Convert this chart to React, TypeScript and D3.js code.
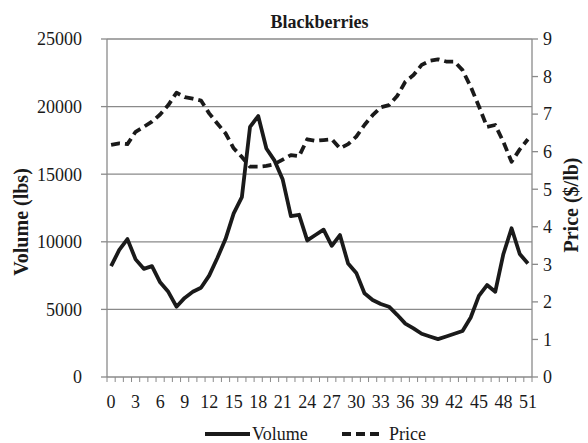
import React from 'react';
import * as d3 from 'd3';

const weeks = [0,1,2,3,4,5,6,7,8,9,10,11,12,13,14,15,16,17,18,19,20,21,22,23,24,25,26,27,28,29,30,31,32,33,34,35,36,37,38,39,40,41,42,43,44,45,46,47,48,49,50,51];
const volume = [8200,9400,10200,8700,8000,8200,7000,6300,5200,5850,6300,6600,7500,8800,10200,12100,13300,18500,19300,16900,16000,14600,11900,12000,10100,10500,10900,9700,10500,8400,7700,6200,5700,5400,5200,4600,3950,3600,3200,3000,2800,3000,3200,3400,4400,6000,6800,6300,9100,11000,9100,8400];
const price = [6.18,6.22,6.2,6.53,6.66,6.8,6.99,7.24,7.57,7.45,7.41,7.36,7.02,6.75,6.49,6.09,5.86,5.6,5.6,5.62,5.67,5.79,5.91,5.88,6.33,6.29,6.31,6.33,6.09,6.2,6.4,6.71,6.97,7.18,7.24,7.48,7.86,8.04,8.31,8.42,8.46,8.4,8.4,8.17,7.73,7.21,6.66,6.71,6.26,5.73,6.06,6.33];
const volumeTicks = [0,5000,10000,15000,20000,25000];
const priceTicks = [0,1,2,3,4,5,6,7,8,9];
const labelWeeks = [0,3,6,9,12,15,18,21,24,27,30,33,36,39,42,45,48,51];

const W = 588, H = 443;
const L = 107, R = 532, T = 39, B = 377;
const FONT = '"Liberation Serif", "Times New Roman", serif';
const INK = '#1a1a1a';
const GRID = '#8a8a8a';

export default function App() {
  const x = d3.scaleBand<number>().domain(weeks).range([L, R]);
  const cx = (w: number) => (x(w) as number) + x.bandwidth() / 2;
  const yL = d3.scaleLinear().domain([0, 25000]).range([B, T]);
  const yR = d3.scaleLinear().domain([0, 9]).range([B, T]);
  const volLine = d3.line<number>().x((_, i) => cx(weeks[i])).y(d => yL(d));
  const priceLine = d3.line<number>().x((_, i) => cx(weeks[i])).y(d => yR(d));
  const boundaries = [...weeks.map(w => x(w) as number), R];

  return (
    <svg width={W} height={H} style={{ position: 'absolute', left: 0, top: 0, background: '#fff' }} fontFamily={FONT}>
      <rect width={W} height={H} fill="#fff" />
      {volumeTicks.map(t => (
        <g key={t}>
          {t > 0 && <line x1={L} x2={R} y1={yL(t)} y2={yL(t)} stroke={GRID} strokeWidth={1.3} />}
          <line x1={L - 6} x2={L} y1={yL(t)} y2={yL(t)} stroke={GRID} strokeWidth={1.3} />
          <text x={82} y={yL(t)} dy="0.35em" textAnchor="end" fontSize={18} fill={INK}>{t}</text>
        </g>
      ))}
      {priceTicks.map(t => (
        <g key={t}>
          <line x1={R} x2={R + 6} y1={yR(t)} y2={yR(t)} stroke={GRID} strokeWidth={1.3} />
          <text x={543} y={yR(t)} dy="0.35em" textAnchor="start" fontSize={18} fill={INK}>{t}</text>
        </g>
      ))}
      <line x1={L} x2={L} y1={T} y2={B} stroke={GRID} strokeWidth={1.3} />
      <line x1={R} x2={R} y1={T} y2={B} stroke={GRID} strokeWidth={1.3} />
      <line x1={L} x2={R} y1={B} y2={B} stroke={GRID} strokeWidth={1.3} />
      {boundaries.map((b, i) => (
        <line key={i} x1={b} x2={b} y1={B} y2={B + 5} stroke={GRID} strokeWidth={1} />
      ))}
      {labelWeeks.map(w => (
        <text key={w} x={cx(w)} y={408} textAnchor="middle" fontSize={18} fill={INK}>{w}</text>
      ))}
      <path d={volLine(volume) || ''} fill="none" stroke={INK} strokeWidth={3.8} strokeLinejoin="round" />
      <path d={priceLine(price) || ''} fill="none" stroke={INK} strokeWidth={3.8} strokeDasharray="9,5" strokeLinejoin="round" />
      <text x={(L + R) / 2} y={28} textAnchor="middle" fontSize={18} fontWeight="bold" fill={INK}>Blackberries</text>
      <text transform={`translate(28,222) rotate(-90)`} textAnchor="middle" fontSize={20} fontWeight="bold" fill={INK}>Volume (lbs)</text>
      <text transform={`translate(578,205) rotate(-90)`} textAnchor="middle" fontSize={20} fontWeight="bold" fill={INK}>Price ($/lb)</text>
      <line x1={205} x2={250} y1={434} y2={434} stroke={INK} strokeWidth={3.8} />
      <text x={252} y={440} fontSize={18} fill={INK}>Volume</text>
      <line x1={342} x2={380} y1={434} y2={434} stroke={INK} strokeWidth={3.8} strokeDasharray="9,5" />
      <text x={389} y={440} fontSize={18} fill={INK}>Price</text>
    </svg>
  );
}
